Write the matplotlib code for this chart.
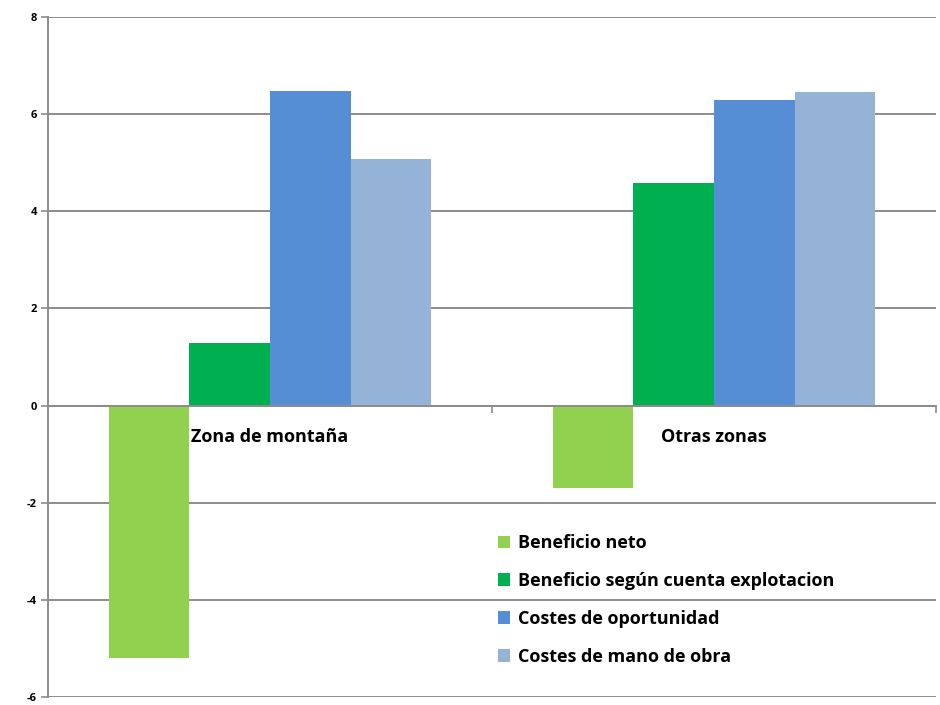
import matplotlib
matplotlib.use("Agg")
import matplotlib.pyplot as plt
import numpy as np

# data
categories = ["Zona de montaña", "Otras zonas"]
series_names = [
    "Beneficio neto",
    "Beneficio según cuenta explotacion",
    "Costes de oportunidad",
    "Costes de mano de obra",
]
beneficio_neto = [-5.2, -1.7]
beneficio_cuenta = [1.28, 4.58]
costes_oportunidad = [6.48, 6.29]
costes_mano_obra = [5.07, 6.46]
y_ticks = [-6, -4, -2, 0, 2, 4, 6, 8]

COLORS = ["#92D050", "#00B050", "#558ED5", "#95B3D7"]
GRID = "#8C8C8C"
FONT = "Open Sans"

plt.rcParams["font.family"] = [FONT, "DejaVu Sans"]

fig = plt.figure(figsize=(9.4, 7.05), dpi=100)
ax = fig.add_axes([0.051, 0.0114, 0.9447, 0.9645])

x = np.arange(len(categories))
w = 0.1815
all_series = [beneficio_neto, beneficio_cuenta, costes_oportunidad, costes_mano_obra]
for i, (name, vals, col) in enumerate(zip(series_names, all_series, COLORS)):
    ax.bar(x + (i - 1.5) * w, vals, width=w, color=col, label=name, zorder=2)

ax.set_xlim(-0.5, 1.5)
ax.set_ylim(-6, 8)
ax.set_yticks(y_ticks)
ax.set_yticklabels([str(t) for t in y_ticks], fontsize=8, fontweight="bold")
ax.yaxis.grid(True, color=GRID, linewidth=1.4, zorder=0)
ax.set_axisbelow(True)

for s in ["top", "right"]:
    ax.spines[s].set_visible(False)
ax.spines["left"].set_color(GRID)
ax.spines["left"].set_linewidth(1.4)
ax.spines["bottom"].set_position(("data", 0))
ax.spines["bottom"].set_color(GRID)
ax.spines["bottom"].set_linewidth(1.4)
ax.spines["bottom"].set_zorder(3)

# category labels below zero line, tick marks at category boundaries
ax.set_xticks(x)
ax.set_xticklabels(categories, fontsize=13, fontweight="bold")
ax.tick_params(axis="x", which="major", length=0, pad=16)
ax.set_xticks([0.5, 1.5], minor=True)
ax.tick_params(axis="x", which="minor", length=5, color=GRID, width=1.2, direction="out")
ax.tick_params(axis="y", length=5, color=GRID, width=1.2, pad=3)
for lbl in ax.get_xticklabels():
    lbl.set_zorder(4)

ax.legend(loc="upper left", bbox_to_anchor=(0.52, 0.255), bbox_transform=fig.transFigure,
          frameon=False, handlelength=0.7, handleheight=0.7,
          handletextpad=0.4, labelspacing=1.1, borderpad=0,
          prop={"weight": "bold", "size": 13})

fig.savefig("out.png", dpi=100, facecolor="white")
